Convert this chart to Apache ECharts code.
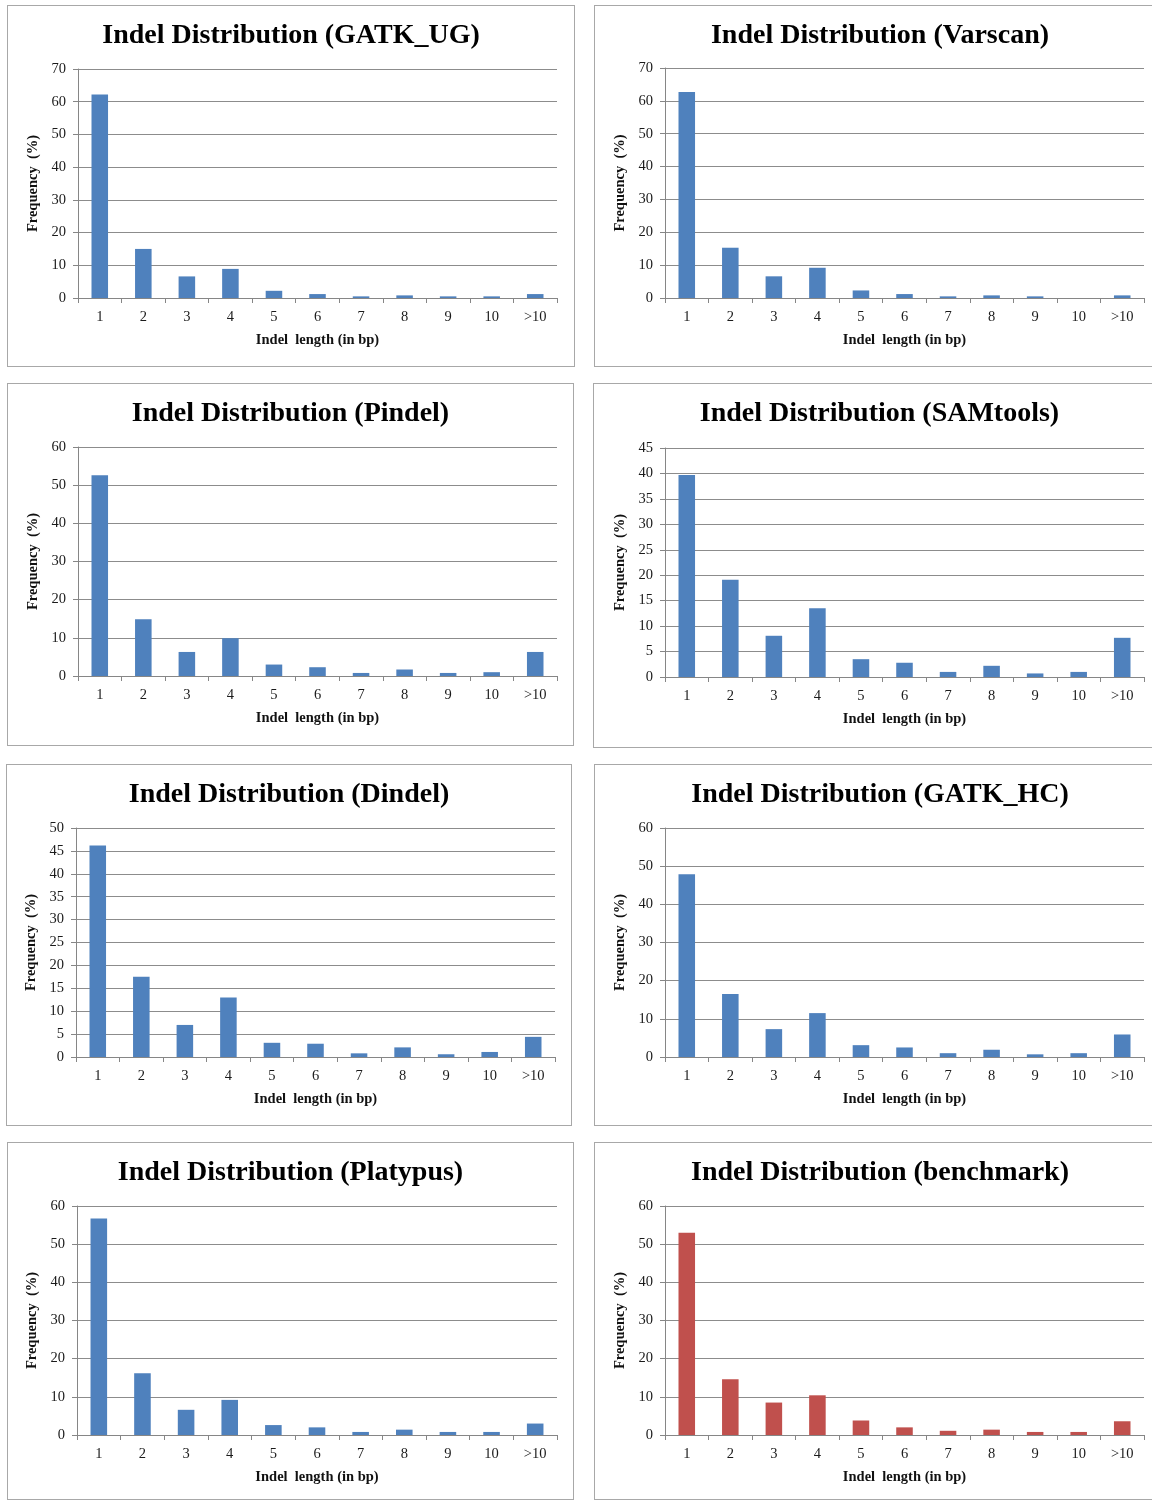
<!DOCTYPE html>
<html>
<head>
<meta charset="utf-8">
<script src="https://cdn.jsdelivr.net/npm/echarts@6/dist/echarts.min.js"></script>
<style>
  body { margin: 0; background: #fff; width: 1152px; height: 1501px; overflow: hidden; position: relative; }
  .panel { position: absolute; border: 1px solid #a8a8a8; box-sizing: border-box; }
  .chart { position: absolute; left: -1px; top: -1px; }
</style>
</head>
<body>
<script>
// indel length bins
const lengths = ['1', '2', '3', '4', '5', '6', '7', '8', '9', '10', '>10']

// frequency (%) per caller
const gatkUG    = [62.2, 15.0, 6.6, 8.9, 2.2, 1.2, 0.5, 0.8, 0.5, 0.5, 1.2]
const varscan   = [62.7, 15.3, 6.6, 9.2, 2.3, 1.2, 0.5, 0.8, 0.5, 0, 0.8]
const pindel    = [52.6, 14.9, 6.3, 9.9, 3.0, 2.3, 0.8, 1.7, 0.8, 1.0, 6.3]
const samtools  = [39.7, 19.1, 8.1, 13.5, 3.5, 2.8, 1.0, 2.2, 0.7, 1.0, 7.7]
const dindel    = [46.2, 17.5, 7.0, 13.0, 3.1, 2.9, 0.8, 2.1, 0.6, 1.1, 4.4]
const gatkHC    = [47.9, 16.5, 7.3, 11.5, 3.1, 2.5, 1.0, 1.9, 0.7, 1.0, 5.9]
const platypus  = [56.7, 16.2, 6.6, 9.2, 2.6, 2.0, 0.8, 1.4, 0.8, 0.8, 3.0]
const benchmark = [53.0, 14.6, 8.5, 10.4, 3.8, 2.0, 1.1, 1.4, 0.8, 0.8, 3.6]

const BLUE = '#4f81bd'
const RED = '#c0504d'
const SERIF = '"Liberation Serif", "Times New Roman", serif'

// frame: [x, y, w, h]; plot: [axisX, topY, rightX, zeroY] in page pixels
const panels = [
  { name: 'GATK_UG',   data: gatkUG,    max: 70, interval: 10, color: BLUE, frame: [7, 5, 568, 362],     plot: [78, 69, 557, 298] },
  { name: 'Varscan',   data: varscan,   max: 70, interval: 10, color: BLUE, frame: [594, 5, 572, 362],   plot: [665, 68, 1144, 298] },
  { name: 'Pindel',    data: pindel,    max: 60, interval: 10, color: BLUE, frame: [7, 383, 567, 363],   plot: [78, 447, 557, 676] },
  { name: 'SAMtools',  data: samtools,  max: 45, interval: 5,  color: BLUE, frame: [593, 383, 573, 365], plot: [665, 448, 1144, 677] },
  { name: 'Dindel',    data: dindel,    max: 50, interval: 5,  color: BLUE, frame: [6, 764, 566, 362],   plot: [76, 828, 555, 1057] },
  { name: 'GATK_HC',   data: gatkHC,    max: 60, interval: 10, color: BLUE, frame: [594, 764, 572, 362], plot: [665, 828, 1144, 1057] },
  { name: 'Platypus',  data: platypus,  max: 60, interval: 10, color: BLUE, frame: [7, 1142, 567, 358],  plot: [77, 1206, 557, 1435] },
  { name: 'benchmark', data: benchmark, max: 60, interval: 10, color: RED,  frame: [594, 1142, 572, 358], plot: [665, 1206, 1144, 1435] },
]

panels.forEach((p) => {
  const [fx, fy, fw, fh] = p.frame
  const [ax, top, rx, zero] = p.plot

  const box = document.createElement('div')
  box.className = 'panel'
  box.style.cssText = `left:${fx}px;top:${fy}px;width:${fw}px;height:${fh}px;`
  const el = document.createElement('div')
  el.className = 'chart'
  el.style.cssText = `width:${fw}px;height:${fh}px;`
  box.appendChild(el)
  document.body.appendChild(box)

  const chart = echarts.init(el, null, { renderer: 'canvas' })
  chart.setOption({
    animation: false,
    title: {
      text: `Indel Distribution (${p.name})`,
      left: 'center',
      top: 12,
      textStyle: { fontFamily: SERIF, fontSize: 28, fontWeight: 'bold', color: '#000' },
    },
    grid: {
      left: ax - fx,
      top: top - fy,
      width: rx - ax,
      height: zero - top,
    },
    xAxis: {
      type: 'category',
      data: lengths,
      name: 'Indel  length (in bp)',
      nameLocation: 'middle',
      nameGap: 35,
      nameTextStyle: { fontFamily: SERIF, fontSize: 14.5, fontWeight: 'bold', color: '#111' },
      axisLine: { lineStyle: { color: '#868686', width: 1 } },
      axisTick: { show: true, length: 5, lineStyle: { color: '#868686' } },
      axisLabel: { fontFamily: SERIF, fontSize: 14.5, color: '#1a1a1a', margin: 12 },
    },
    yAxis: {
      type: 'value',
      min: 0,
      max: p.max,
      interval: p.interval,
      name: 'Frequency  (%)',
      nameLocation: 'middle',
      nameRotate: 90,
      nameGap: 33,
      nameTextStyle: { fontFamily: SERIF, fontSize: 14.5, fontWeight: 'bold', color: '#111' },
      axisLine: { show: true, lineStyle: { color: '#868686', width: 1 } },
      axisTick: { show: true, length: 5, lineStyle: { color: '#868686' } },
      axisLabel: { fontFamily: SERIF, fontSize: 14.5, color: '#1a1a1a', margin: 12 },
      splitLine: { lineStyle: { color: '#8c8c8c', width: 1 } },
    },
    series: [
      {
        type: 'bar',
        data: p.data,
        barCategoryGap: '62%',
        itemStyle: { color: p.color },
      },
    ],
  })
})
</script>
</body>
</html>
